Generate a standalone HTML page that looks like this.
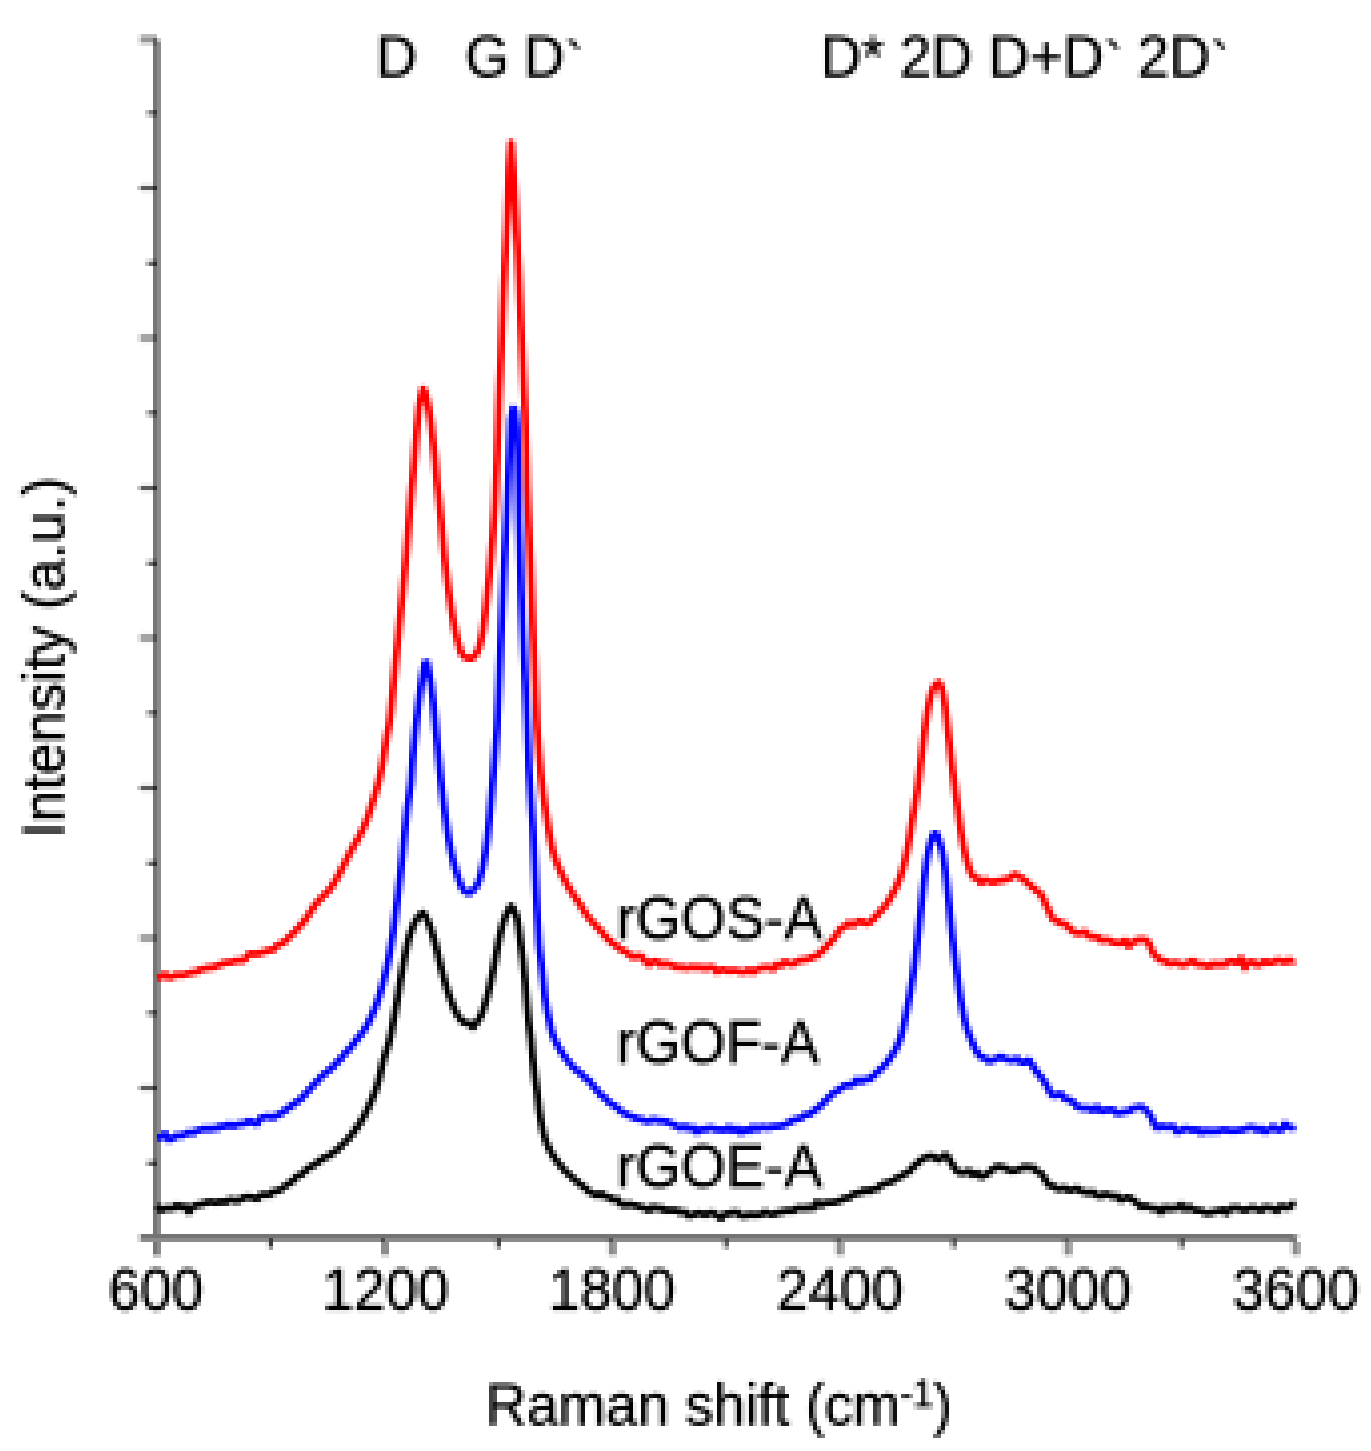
<!DOCTYPE html>
<html lang="en">
<head>
<meta charset="utf-8">
<title>Raman spectra</title>
<style>
html,body{margin:0;padding:0;background:#fff;}
body{width:1371px;height:1451px;overflow:hidden;font-family:"Liberation Sans",Arial,sans-serif;}
svg{display:block;}
</style>
</head>
<body>
<svg width="1371" height="1451" viewBox="0 0 1371 1451">
<defs><filter id="px" x="0" y="0" width="1371" height="1451" filterUnits="userSpaceOnUse" primitiveUnits="userSpaceOnUse" color-interpolation-filters="sRGB">
<feConvolveMatrix in="SourceGraphic" order="4" kernelMatrix="1 1 1 1 1 1 1 1 1 1 1 1 1 1 1 1" divisor="16" targetX="1" targetY="1" edgeMode="duplicate" preserveAlpha="false" result="b"/>
<feFlood x="2" y="3" width="1" height="1" flood-color="#000" result="dot"/>
<feComposite in="dot" in2="dot" operator="over" x="1" y="2" width="4" height="4" result="cell"/>
<feTile in="cell" result="grid"/>
<feComposite in="b" in2="grid" operator="in" result="samp"/>
<feMorphology in="samp" operator="dilate" radius="1" result="d"/>
<feOffset in="d" dx="1" dy="0" result="d1"/>
<feOffset in="d" dx="0" dy="1" result="d2"/>
<feOffset in="d" dx="1" dy="1" result="d3"/>
<feMerge><feMergeNode in="d3"/><feMergeNode in="d2"/><feMergeNode in="d1"/><feMergeNode in="d"/></feMerge>
</filter></defs>
<rect width="100%" height="100%" fill="#fff"/>
<g filter="url(#px)">
<rect width="100%" height="100%" fill="#fff"/>
<g id="axes">
<rect x="153" y="36" width="4" height="1219" fill="#767676"/>
<rect x="157" y="40" width="4" height="1215" fill="#8b8b8b"/>
<rect x="153" y="1255" width="8" height="3" fill="#dcdcdc"/>
<rect x="141" y="1234" width="1155" height="4" fill="#747474"/>
<rect x="141" y="1238" width="1155" height="4" fill="#8b8b8b"/>
<rect x="137" y="1234" width="4" height="8" fill="#d8d8d8"/>
<rect x="1296" y="1234" width="4" height="4" fill="#dcdcdc"/>
<rect x="141" y="36" width="12" height="4" fill="#777"/>
<rect x="141" y="40" width="12" height="4" fill="#b5b5b5"/>
<rect x="137" y="36" width="4" height="8" fill="#dedede"/>
<rect x="153" y="40" width="4" height="4" fill="#4a4a4a"/>
<rect x="141" y="186" width="12" height="4" fill="#5c5c5c"/>
<rect x="137" y="186" width="4" height="4" fill="#c4c4c4"/>
<rect x="141" y="183" width="12" height="3" fill="#ececec"/>
<rect x="141" y="190" width="12" height="3" fill="#ececec"/>
<rect x="153" y="186" width="4" height="4" fill="#2c2c2c"/>
<rect x="141" y="336" width="12" height="4" fill="#5c5c5c"/>
<rect x="137" y="336" width="4" height="4" fill="#c4c4c4"/>
<rect x="141" y="333" width="12" height="3" fill="#ececec"/>
<rect x="141" y="340" width="12" height="3" fill="#ececec"/>
<rect x="153" y="336" width="4" height="4" fill="#2c2c2c"/>
<rect x="141" y="486" width="12" height="4" fill="#5c5c5c"/>
<rect x="137" y="486" width="4" height="4" fill="#c4c4c4"/>
<rect x="141" y="483" width="12" height="3" fill="#ececec"/>
<rect x="141" y="490" width="12" height="3" fill="#ececec"/>
<rect x="153" y="486" width="4" height="4" fill="#2c2c2c"/>
<rect x="141" y="636" width="12" height="4" fill="#5c5c5c"/>
<rect x="137" y="636" width="4" height="4" fill="#c4c4c4"/>
<rect x="141" y="633" width="12" height="3" fill="#ececec"/>
<rect x="141" y="640" width="12" height="3" fill="#ececec"/>
<rect x="153" y="636" width="4" height="4" fill="#2c2c2c"/>
<rect x="141" y="786" width="12" height="4" fill="#5c5c5c"/>
<rect x="137" y="786" width="4" height="4" fill="#c4c4c4"/>
<rect x="141" y="783" width="12" height="3" fill="#ececec"/>
<rect x="141" y="790" width="12" height="3" fill="#ececec"/>
<rect x="153" y="786" width="4" height="4" fill="#2c2c2c"/>
<rect x="141" y="936" width="12" height="4" fill="#5c5c5c"/>
<rect x="137" y="936" width="4" height="4" fill="#c4c4c4"/>
<rect x="141" y="933" width="12" height="3" fill="#ececec"/>
<rect x="141" y="940" width="12" height="3" fill="#ececec"/>
<rect x="153" y="936" width="4" height="4" fill="#2c2c2c"/>
<rect x="141" y="1086" width="12" height="4" fill="#5c5c5c"/>
<rect x="137" y="1086" width="4" height="4" fill="#c4c4c4"/>
<rect x="141" y="1083" width="12" height="3" fill="#ececec"/>
<rect x="141" y="1090" width="12" height="3" fill="#ececec"/>
<rect x="153" y="1086" width="4" height="4" fill="#2c2c2c"/>
<rect x="149" y="111" width="4" height="4.5" fill="#555"/>
<rect x="145" y="111" width="4" height="4.5" fill="#b0b0b0"/>
<rect x="153" y="111" width="4" height="4.5" fill="#262626"/>
<rect x="149" y="261" width="4" height="4.5" fill="#555"/>
<rect x="145" y="261" width="4" height="4.5" fill="#b0b0b0"/>
<rect x="153" y="261" width="4" height="4.5" fill="#262626"/>
<rect x="149" y="411" width="4" height="4.5" fill="#555"/>
<rect x="145" y="411" width="4" height="4.5" fill="#b0b0b0"/>
<rect x="153" y="411" width="4" height="4.5" fill="#262626"/>
<rect x="149" y="561" width="4" height="4.5" fill="#555"/>
<rect x="145" y="561" width="4" height="4.5" fill="#b0b0b0"/>
<rect x="153" y="561" width="4" height="4.5" fill="#262626"/>
<rect x="149" y="711" width="4" height="4.5" fill="#555"/>
<rect x="145" y="711" width="4" height="4.5" fill="#b0b0b0"/>
<rect x="153" y="711" width="4" height="4.5" fill="#262626"/>
<rect x="149" y="861" width="4" height="4.5" fill="#555"/>
<rect x="145" y="861" width="4" height="4.5" fill="#b0b0b0"/>
<rect x="153" y="861" width="4" height="4.5" fill="#262626"/>
<rect x="149" y="1011" width="4" height="4.5" fill="#555"/>
<rect x="145" y="1011" width="4" height="4.5" fill="#b0b0b0"/>
<rect x="153" y="1011" width="4" height="4.5" fill="#262626"/>
<rect x="149" y="1161" width="4" height="4.5" fill="#555"/>
<rect x="145" y="1161" width="4" height="4.5" fill="#b0b0b0"/>
<rect x="153" y="1161" width="4" height="4.5" fill="#262626"/>
<rect x="381" y="1242" width="8" height="12" fill="#8c8c8c"/>
<rect x="381" y="1254" width="8" height="4" fill="#dcdcdc"/>
<rect x="381" y="1238" width="4" height="4" fill="#4a4a4a"/>
<rect x="608.5" y="1242" width="8" height="12" fill="#8c8c8c"/>
<rect x="608.5" y="1254" width="8" height="4" fill="#dcdcdc"/>
<rect x="608.5" y="1238" width="4" height="4" fill="#4a4a4a"/>
<rect x="836" y="1242" width="8" height="12" fill="#8c8c8c"/>
<rect x="836" y="1254" width="8" height="4" fill="#dcdcdc"/>
<rect x="836" y="1238" width="4" height="4" fill="#4a4a4a"/>
<rect x="1064" y="1242" width="8" height="12" fill="#8c8c8c"/>
<rect x="1064" y="1254" width="8" height="4" fill="#dcdcdc"/>
<rect x="1064" y="1238" width="4" height="4" fill="#4a4a4a"/>
<rect x="1292" y="1242" width="8" height="12" fill="#8c8c8c"/>
<rect x="1292" y="1254" width="8" height="4" fill="#dcdcdc"/>
<rect x="1292" y="1238" width="4" height="4" fill="#4a4a4a"/>
<rect x="269" y="1238" width="4" height="9" fill="#3c3c3c"/>
<rect x="269" y="1247" width="4" height="3" fill="#b8b8b8"/>
<rect x="266" y="1242" width="3" height="6" fill="#dadada"/>
<rect x="496.7" y="1238" width="4" height="9" fill="#3c3c3c"/>
<rect x="496.7" y="1247" width="4" height="3" fill="#b8b8b8"/>
<rect x="493.7" y="1242" width="3" height="6" fill="#dadada"/>
<rect x="724.2" y="1238" width="4" height="9" fill="#3c3c3c"/>
<rect x="724.2" y="1247" width="4" height="3" fill="#b8b8b8"/>
<rect x="721.2" y="1242" width="3" height="6" fill="#dadada"/>
<rect x="952" y="1238" width="4" height="9" fill="#3c3c3c"/>
<rect x="952" y="1247" width="4" height="3" fill="#b8b8b8"/>
<rect x="949" y="1242" width="3" height="6" fill="#dadada"/>
<rect x="1180" y="1238" width="4" height="9" fill="#3c3c3c"/>
<rect x="1180" y="1247" width="4" height="3" fill="#b8b8b8"/>
<rect x="1177" y="1242" width="3" height="6" fill="#dadada"/>
</g>
<path d="M157.0 1205.4 L159.0 1207.8 L161.0 1210.2 L163.0 1209.3 L165.0 1208.3 L167.0 1208.3 L169.0 1208.3 L171.0 1208.3 L173.0 1208.3 L175.0 1206.7 L177.0 1205.0 L179.0 1206.3 L181.0 1207.5 L183.0 1206.8 L185.0 1206.1 L187.0 1209.0 L189.0 1211.9 L191.0 1209.2 L193.0 1206.5 L195.0 1205.7 L197.0 1205.0 L199.0 1204.7 L201.0 1204.4 L203.0 1203.7 L205.0 1203.1 L207.0 1202.4 L209.0 1201.8 L211.0 1202.0 L213.0 1202.2 L215.0 1202.5 L217.0 1202.9 L219.0 1202.0 L221.0 1201.2 L223.0 1201.8 L225.0 1202.4 L227.0 1201.2 L229.0 1200.0 L231.0 1199.8 L233.0 1199.7 L235.0 1200.5 L237.0 1201.3 L239.0 1200.2 L241.0 1199.2 L243.0 1198.1 L245.0 1197.0 L247.0 1196.9 L249.0 1196.9 L251.0 1197.2 L253.0 1197.5 L255.0 1198.3 L257.0 1199.0 L259.0 1197.0 L261.0 1195.0 L263.0 1194.7 L265.0 1194.3 L267.0 1194.8 L269.0 1195.1 L271.0 1193.4 L273.0 1191.7 L275.0 1191.5 L277.0 1191.0 L279.0 1190.3 L281.0 1189.3 L283.0 1187.8 L285.0 1186.3 L287.0 1184.8 L289.0 1183.4 L291.0 1182.1 L293.0 1180.8 L295.0 1178.5 L297.0 1176.2 L299.0 1175.5 L301.0 1174.9 L303.0 1173.0 L305.0 1171.0 L307.0 1169.4 L309.0 1167.7 L311.0 1166.6 L313.0 1165.6 L315.0 1164.3 L317.0 1163.0 L319.0 1161.4 L321.0 1159.9 L323.0 1158.6 L325.0 1157.3 L327.0 1156.6 L329.0 1155.7 L331.0 1154.3 L333.0 1152.8 L335.0 1151.5 L337.0 1150.1 L339.0 1148.1 L341.0 1146.2 L343.0 1144.1 L345.0 1142.1 L347.0 1140.1 L349.0 1138.0 L351.0 1135.5 L353.0 1132.9 L355.0 1130.2 L357.0 1127.4 L359.0 1124.6 L361.0 1121.5 L363.0 1118.0 L365.0 1114.3 L367.0 1110.3 L369.0 1106.1 L371.0 1101.7 L373.0 1097.0 L375.0 1091.9 L377.0 1086.1 L379.0 1079.4 L381.0 1070.7 L383.0 1061.9 L385.0 1054.9 L387.0 1048.9 L389.0 1042.4 L391.0 1034.2 L393.0 1023.9 L395.0 1012.7 L397.0 1001.3 L399.0 989.4 L401.0 977.2 L403.0 966.0 L405.0 955.5 L407.0 945.7 L409.0 937.6 L411.0 931.5 L413.0 926.4 L415.0 922.2 L417.0 919.0 L419.0 915.9 L421.0 914.2 L423.0 912.9 L425.0 915.4 L427.0 919.6 L429.0 924.1 L431.0 929.4 L433.0 935.9 L435.0 942.7 L437.0 950.4 L439.0 959.0 L441.0 967.4 L443.0 974.9 L445.0 982.0 L447.0 988.8 L449.0 994.9 L451.0 1000.4 L453.0 1005.6 L455.0 1010.2 L457.0 1014.1 L459.0 1017.1 L461.0 1019.7 L463.0 1021.7 L465.0 1022.9 L467.0 1023.3 L469.0 1023.1 L471.0 1025.5 L473.0 1027.3 L475.0 1024.6 L477.0 1022.0 L479.0 1019.1 L481.0 1015.7 L483.0 1010.5 L485.0 1004.2 L487.0 997.3 L489.0 989.6 L491.0 980.7 L493.0 971.3 L495.0 961.1 L497.0 949.9 L499.0 939.6 L501.0 931.3 L503.0 923.7 L505.0 917.6 L507.0 913.2 L509.0 909.3 L511.0 906.2 L513.0 908.6 L515.0 912.3 L517.0 917.7 L519.0 929.7 L521.0 945.9 L523.0 959.9 L525.0 979.4 L527.0 1004.2 L529.0 1024.8 L531.0 1038.9 L533.0 1060.5 L535.0 1077.5 L537.0 1091.0 L539.0 1108.5 L541.0 1121.0 L543.0 1131.2 L545.0 1138.6 L547.0 1144.1 L549.0 1148.4 L551.0 1152.2 L553.0 1155.5 L555.0 1158.5 L557.0 1161.3 L559.0 1163.8 L561.0 1166.1 L563.0 1168.5 L565.0 1170.8 L567.0 1172.7 L569.0 1174.4 L571.0 1176.3 L573.0 1178.3 L575.0 1179.9 L577.0 1181.5 L579.0 1183.2 L581.0 1184.9 L583.0 1186.3 L585.0 1187.7 L587.0 1189.6 L589.0 1191.7 L591.0 1192.6 L593.0 1193.5 L595.0 1194.6 L597.0 1195.6 L599.0 1194.9 L601.0 1193.4 L603.0 1194.8 L605.0 1196.4 L607.0 1196.7 L609.0 1197.2 L611.0 1198.5 L613.0 1199.9 L615.0 1199.6 L617.0 1199.1 L619.0 1201.5 L621.0 1203.9 L623.0 1204.7 L625.0 1205.4 L627.0 1204.8 L629.0 1203.9 L631.0 1204.5 L633.0 1205.2 L635.0 1205.6 L637.0 1205.8 L639.0 1206.6 L641.0 1207.2 L643.0 1207.7 L645.0 1208.2 L647.0 1209.3 L649.0 1210.5 L651.0 1208.6 L653.0 1206.7 L655.0 1207.6 L657.0 1208.5 L659.0 1208.2 L661.0 1207.8 L663.0 1209.3 L665.0 1210.8 L667.0 1210.2 L669.0 1209.7 L671.0 1210.4 L673.0 1210.8 L675.0 1210.2 L677.0 1210.4 L679.0 1211.7 L681.0 1212.6 L683.0 1212.3 L685.0 1211.9 L687.0 1213.9 L689.0 1216.0 L691.0 1215.4 L693.0 1214.8 L695.0 1214.1 L697.0 1213.4 L699.0 1213.3 L701.0 1213.3 L703.0 1214.1 L705.0 1215.0 L707.0 1214.0 L709.0 1213.1 L711.0 1212.9 L713.0 1212.8 L715.0 1214.0 L717.0 1215.2 L719.0 1217.0 L721.0 1218.7 L723.0 1216.4 L725.0 1214.1 L727.0 1213.8 L729.0 1213.6 L731.0 1213.0 L733.0 1212.5 L735.0 1212.4 L737.0 1212.2 L739.0 1213.8 L741.0 1215.4 L743.0 1215.7 L745.0 1215.9 L747.0 1215.2 L749.0 1214.5 L751.0 1214.8 L753.0 1215.1 L755.0 1214.9 L757.0 1214.7 L759.0 1214.7 L761.0 1214.7 L763.0 1213.3 L765.0 1211.9 L767.0 1212.8 L769.0 1213.7 L771.0 1214.2 L773.0 1214.5 L775.0 1213.6 L777.0 1212.6 L779.0 1212.5 L781.0 1212.3 L783.0 1211.6 L785.0 1210.9 L787.0 1210.7 L789.0 1210.5 L791.0 1210.7 L793.0 1211.0 L795.0 1209.7 L797.0 1208.3 L799.0 1208.1 L801.0 1207.9 L803.0 1208.2 L805.0 1208.5 L807.0 1208.0 L809.0 1207.5 L811.0 1207.9 L813.0 1208.3 L815.0 1205.1 L817.0 1202.0 L819.0 1203.8 L821.0 1205.4 L823.0 1204.1 L825.0 1202.7 L827.0 1202.7 L829.0 1202.7 L831.0 1202.6 L833.0 1202.6 L835.0 1202.1 L837.0 1201.7 L839.0 1201.0 L841.0 1200.3 L843.0 1199.1 L845.0 1197.9 L847.0 1197.9 L849.0 1197.9 L851.0 1196.2 L853.0 1194.5 L855.0 1193.8 L857.0 1193.1 L859.0 1192.8 L861.0 1192.6 L863.0 1191.2 L865.0 1189.8 L867.0 1190.6 L869.0 1191.5 L871.0 1190.2 L873.0 1188.9 L875.0 1188.9 L877.0 1188.9 L879.0 1187.0 L881.0 1185.1 L883.0 1184.2 L885.0 1183.3 L887.0 1182.8 L889.0 1182.3 L891.0 1181.6 L893.0 1180.9 L895.0 1179.4 L897.0 1177.9 L899.0 1177.2 L901.0 1176.3 L903.0 1175.0 L905.0 1173.6 L907.0 1172.7 L909.0 1171.7 L911.0 1169.5 L913.0 1167.2 L915.0 1165.4 L917.0 1163.7 L919.0 1161.8 L921.0 1160.0 L923.0 1158.8 L925.0 1157.7 L927.0 1156.9 L929.0 1156.5 L931.0 1156.2 L933.0 1156.4 L935.0 1157.8 L937.0 1159.1 L939.0 1159.6 L941.0 1158.2 L943.0 1156.3 L945.0 1155.1 L947.0 1155.6 L949.0 1158.8 L951.0 1162.6 L953.0 1165.6 L955.0 1168.6 L957.0 1171.1 L959.0 1172.4 L961.0 1172.9 L963.0 1172.8 L965.0 1172.6 L967.0 1171.7 L969.0 1170.8 L971.0 1173.0 L973.0 1175.1 L975.0 1173.9 L977.0 1172.7 L979.0 1174.7 L981.0 1176.8 L983.0 1176.2 L985.0 1175.0 L987.0 1174.0 L989.0 1172.6 L991.0 1170.7 L993.0 1169.1 L995.0 1167.8 L997.0 1166.6 L999.0 1166.6 L1001.0 1167.4 L1003.0 1167.3 L1005.0 1167.9 L1007.0 1169.2 L1009.0 1170.2 L1011.0 1170.8 L1013.0 1171.0 L1015.0 1170.6 L1017.0 1170.0 L1019.0 1169.3 L1021.0 1168.7 L1023.0 1167.7 L1025.0 1166.7 L1027.0 1167.2 L1029.0 1168.0 L1031.0 1167.4 L1033.0 1167.5 L1035.0 1169.5 L1037.0 1171.3 L1039.0 1172.2 L1041.0 1173.4 L1043.0 1175.9 L1045.0 1179.1 L1047.0 1182.4 L1049.0 1185.2 L1051.0 1186.1 L1053.0 1185.9 L1055.0 1187.2 L1057.0 1188.9 L1059.0 1188.9 L1061.0 1188.9 L1063.0 1188.3 L1065.0 1187.7 L1067.0 1189.2 L1069.0 1190.6 L1071.0 1190.1 L1073.0 1189.6 L1075.0 1188.9 L1077.0 1188.3 L1079.0 1189.8 L1081.0 1191.2 L1083.0 1191.7 L1085.0 1192.1 L1087.0 1192.7 L1089.0 1193.2 L1091.0 1192.5 L1093.0 1191.9 L1095.0 1193.6 L1097.0 1195.3 L1099.0 1195.7 L1101.0 1196.2 L1103.0 1195.1 L1105.0 1193.9 L1107.0 1194.5 L1109.0 1195.1 L1111.0 1195.8 L1113.0 1196.4 L1115.0 1196.2 L1117.0 1196.0 L1119.0 1198.1 L1121.0 1200.1 L1123.0 1199.1 L1125.0 1198.2 L1127.0 1197.7 L1129.0 1197.5 L1131.0 1198.7 L1133.0 1200.0 L1135.0 1201.5 L1137.0 1203.0 L1139.0 1205.0 L1141.0 1207.3 L1143.0 1206.6 L1145.0 1205.8 L1147.0 1206.5 L1149.0 1207.3 L1151.0 1208.0 L1153.0 1208.7 L1155.0 1208.6 L1157.0 1208.2 L1159.0 1210.2 L1161.0 1212.1 L1163.0 1209.6 L1165.0 1207.2 L1167.0 1208.1 L1169.0 1209.1 L1171.0 1208.4 L1173.0 1207.8 L1175.0 1208.1 L1177.0 1208.3 L1179.0 1206.6 L1181.0 1205.0 L1183.0 1207.2 L1185.0 1209.5 L1187.0 1207.8 L1189.0 1206.8 L1191.0 1208.0 L1193.0 1209.3 L1195.0 1210.3 L1197.0 1210.4 L1199.0 1210.4 L1201.0 1210.6 L1203.0 1211.7 L1205.0 1212.8 L1207.0 1213.1 L1209.0 1213.3 L1211.0 1212.5 L1213.0 1211.7 L1215.0 1211.4 L1217.0 1211.2 L1219.0 1210.6 L1221.0 1210.1 L1223.0 1209.7 L1225.0 1212.3 L1227.0 1213.0 L1229.0 1209.5 L1231.0 1208.0 L1233.0 1208.4 L1235.0 1207.9 L1237.0 1207.5 L1239.0 1208.3 L1241.0 1209.2 L1243.0 1209.8 L1245.0 1210.4 L1247.0 1209.6 L1249.0 1208.7 L1251.0 1208.1 L1253.0 1207.5 L1255.0 1208.2 L1257.0 1208.9 L1259.0 1209.7 L1261.0 1210.6 L1263.0 1208.8 L1265.0 1207.1 L1267.0 1207.5 L1269.0 1207.8 L1271.0 1208.1 L1273.0 1208.4 L1275.0 1209.7 L1277.0 1211.0 L1279.0 1208.3 L1281.0 1206.0 L1283.0 1206.9 L1285.0 1207.5 L1287.0 1207.4 L1289.0 1207.5 L1291.0 1205.7 L1293.0 1203.9 L1295.0 1205.2" fill="none" stroke="#000000" stroke-width="7.0" stroke-linejoin="round" stroke-linecap="butt"/>
<path d="M157.0 977.9 L159.0 977.5 L161.0 977.0 L163.0 975.6 L165.0 974.1 L167.0 975.8 L169.0 977.6 L171.0 977.0 L173.0 976.4 L175.0 975.4 L177.0 974.4 L179.0 974.9 L181.0 975.3 L183.0 974.8 L185.0 974.3 L187.0 973.8 L189.0 973.3 L191.0 972.7 L193.0 972.0 L195.0 971.9 L197.0 971.7 L199.0 970.4 L201.0 969.1 L203.0 968.9 L205.0 968.7 L207.0 968.0 L209.0 967.2 L211.0 967.4 L213.0 967.5 L215.0 966.6 L217.0 965.8 L219.0 965.1 L221.0 964.4 L223.0 963.6 L225.0 962.8 L227.0 962.6 L229.0 962.5 L231.0 962.1 L233.0 961.7 L235.0 961.0 L237.0 960.3 L239.0 960.6 L241.0 960.9 L243.0 960.1 L245.0 959.4 L247.0 956.6 L249.0 953.9 L251.0 953.7 L253.0 953.5 L255.0 953.9 L257.0 954.2 L259.0 953.4 L261.0 952.6 L263.0 952.2 L265.0 951.7 L267.0 950.9 L269.0 950.1 L271.0 950.1 L273.0 949.9 L275.0 947.6 L277.0 945.4 L279.0 944.6 L281.0 943.6 L283.0 942.6 L285.0 941.3 L287.0 939.2 L289.0 937.1 L291.0 935.2 L293.0 933.4 L295.0 931.3 L297.0 929.2 L299.0 927.0 L301.0 924.7 L303.0 922.6 L305.0 920.0 L307.0 917.1 L309.0 914.1 L311.0 911.0 L313.0 907.9 L315.0 905.1 L317.0 902.6 L319.0 900.3 L321.0 898.4 L323.0 896.3 L325.0 894.3 L327.0 892.4 L329.0 890.2 L331.0 887.6 L333.0 884.6 L335.0 881.3 L337.0 877.9 L339.0 874.3 L341.0 870.4 L343.0 866.5 L345.0 862.5 L347.0 858.5 L349.0 854.5 L351.0 850.7 L353.0 847.1 L355.0 843.7 L357.0 840.2 L359.0 836.7 L361.0 833.0 L363.0 828.9 L365.0 824.2 L367.0 819.0 L369.0 813.3 L371.0 807.2 L373.0 800.9 L375.0 794.5 L377.0 787.8 L379.0 780.1 L381.0 771.2 L383.0 760.9 L385.0 747.2 L387.0 734.5 L389.0 725.4 L391.0 709.8 L393.0 688.3 L395.0 668.1 L397.0 648.1 L399.0 628.0 L401.0 608.4 L403.0 588.5 L405.0 567.5 L407.0 544.0 L409.0 519.4 L411.0 495.9 L413.0 475.4 L415.0 451.6 L417.0 427.3 L419.0 408.0 L421.0 396.2 L423.0 388.8 L425.0 392.0 L427.0 400.5 L429.0 410.0 L431.0 424.0 L433.0 441.7 L435.0 459.5 L437.0 483.7 L439.0 500.3 L441.0 519.7 L443.0 542.3 L445.0 562.3 L447.0 579.0 L449.0 593.8 L451.0 607.0 L453.0 619.0 L455.0 629.8 L457.0 638.7 L459.0 646.2 L461.0 652.3 L463.0 655.2 L465.0 657.1 L467.0 658.2 L469.0 658.2 L471.0 658.7 L473.0 657.4 L475.0 655.1 L477.0 652.3 L479.0 647.7 L481.0 640.1 L483.0 630.0 L485.0 614.5 L487.0 596.4 L489.0 578.0 L491.0 557.5 L493.0 533.5 L495.0 504.8 L497.0 458.8 L499.0 398.1 L501.0 355.3 L503.0 303.2 L505.0 260.8 L507.0 225.0 L509.0 168.6 L511.0 142.7 L513.0 168.4 L515.0 202.8 L517.0 240.8 L519.0 279.7 L521.0 326.4 L523.0 371.2 L525.0 412.0 L527.0 487.6 L529.0 531.3 L531.0 580.8 L533.0 632.2 L535.0 682.1 L537.0 726.8 L539.0 753.6 L541.0 775.5 L543.0 792.7 L545.0 807.1 L547.0 819.8 L549.0 831.8 L551.0 842.7 L553.0 851.5 L555.0 858.0 L557.0 863.5 L559.0 868.3 L561.0 872.6 L563.0 876.8 L565.0 880.7 L567.0 884.4 L569.0 887.9 L571.0 891.2 L573.0 894.3 L575.0 897.2 L577.0 900.0 L579.0 903.0 L581.0 906.0 L583.0 909.4 L585.0 912.6 L587.0 915.5 L589.0 918.1 L591.0 920.5 L593.0 922.7 L595.0 924.8 L597.0 927.0 L599.0 928.9 L601.0 931.1 L603.0 933.5 L605.0 935.9 L607.0 938.1 L609.0 940.1 L611.0 941.9 L613.0 943.6 L615.0 945.0 L617.0 946.3 L619.0 948.0 L621.0 949.6 L623.0 950.5 L625.0 951.2 L627.0 952.8 L629.0 954.5 L631.0 955.9 L633.0 957.2 L635.0 956.6 L637.0 955.9 L639.0 956.1 L641.0 956.3 L643.0 958.6 L645.0 961.0 L647.0 962.7 L649.0 964.6 L651.0 963.2 L653.0 961.2 L655.0 961.3 L657.0 961.4 L659.0 963.1 L661.0 964.8 L663.0 964.0 L665.0 963.2 L667.0 963.9 L669.0 964.5 L671.0 965.0 L673.0 965.5 L675.0 966.6 L677.0 967.6 L679.0 967.2 L681.0 966.7 L683.0 967.4 L685.0 968.1 L687.0 967.9 L689.0 967.7 L691.0 967.2 L693.0 966.8 L695.0 967.3 L697.0 967.9 L699.0 967.4 L701.0 967.0 L703.0 967.9 L705.0 968.8 L707.0 967.9 L709.0 967.1 L711.0 967.2 L713.0 967.4 L715.0 969.6 L717.0 971.8 L719.0 970.7 L721.0 969.6 L723.0 969.8 L725.0 970.0 L727.0 970.6 L729.0 971.3 L731.0 970.7 L733.0 970.1 L735.0 970.5 L737.0 970.8 L739.0 971.4 L741.0 972.1 L743.0 972.1 L745.0 972.0 L747.0 970.7 L749.0 969.5 L751.0 971.0 L753.0 972.3 L755.0 970.9 L757.0 969.5 L759.0 968.8 L761.0 968.1 L763.0 967.8 L765.0 967.5 L767.0 967.4 L769.0 967.3 L771.0 968.2 L773.0 969.2 L775.0 966.8 L777.0 964.4 L779.0 965.0 L781.0 965.6 L783.0 963.6 L785.0 961.5 L787.0 962.7 L789.0 963.8 L791.0 964.0 L793.0 964.1 L795.0 962.8 L797.0 961.6 L799.0 960.8 L801.0 960.0 L803.0 960.0 L805.0 959.8 L807.0 959.3 L809.0 958.7 L811.0 957.8 L813.0 956.9 L815.0 956.3 L817.0 955.6 L819.0 953.8 L821.0 952.0 L823.0 950.1 L825.0 948.0 L827.0 945.9 L829.0 943.8 L831.0 941.6 L833.0 939.3 L835.0 936.7 L837.0 933.7 L839.0 930.8 L841.0 928.4 L843.0 927.2 L845.0 926.4 L847.0 924.7 L849.0 922.9 L851.0 923.9 L853.0 925.2 L855.0 923.8 L857.0 922.4 L859.0 921.6 L861.0 920.9 L863.0 922.2 L865.0 923.3 L867.0 923.3 L869.0 922.9 L871.0 921.2 L873.0 919.3 L875.0 917.3 L877.0 915.1 L879.0 912.8 L881.0 910.5 L883.0 908.5 L885.0 906.2 L887.0 903.2 L889.0 900.0 L891.0 896.6 L893.0 893.0 L895.0 889.3 L897.0 885.0 L899.0 880.2 L901.0 874.8 L903.0 868.2 L905.0 860.1 L907.0 851.0 L909.0 840.3 L911.0 827.7 L913.0 815.5 L915.0 804.0 L917.0 791.7 L919.0 776.9 L921.0 760.3 L923.0 744.3 L925.0 728.1 L927.0 714.1 L929.0 703.3 L931.0 694.5 L933.0 689.2 L935.0 685.4 L937.0 683.4 L939.0 682.6 L941.0 686.5 L943.0 693.9 L945.0 705.7 L947.0 723.1 L949.0 740.0 L951.0 757.3 L953.0 773.5 L955.0 788.6 L957.0 803.3 L959.0 818.1 L961.0 832.3 L963.0 843.9 L965.0 853.6 L967.0 861.3 L969.0 867.6 L971.0 873.1 L973.0 876.6 L975.0 877.7 L977.0 878.1 L979.0 880.3 L981.0 883.0 L983.0 881.5 L985.0 879.7 L987.0 880.5 L989.0 881.2 L991.0 882.0 L993.0 882.8 L995.0 881.9 L997.0 880.8 L999.0 880.9 L1001.0 880.8 L1003.0 880.1 L1005.0 879.4 L1007.0 879.2 L1009.0 878.6 L1011.0 877.1 L1013.0 875.5 L1015.0 874.5 L1017.0 875.3 L1019.0 876.5 L1021.0 877.8 L1023.0 879.2 L1025.0 880.6 L1027.0 882.4 L1029.0 884.3 L1031.0 886.1 L1033.0 887.7 L1035.0 889.4 L1037.0 891.1 L1039.0 892.5 L1041.0 894.6 L1043.0 898.1 L1045.0 902.6 L1047.0 906.9 L1049.0 911.1 L1051.0 915.4 L1053.0 918.9 L1055.0 920.5 L1057.0 920.7 L1059.0 922.1 L1061.0 923.7 L1063.0 923.5 L1065.0 924.0 L1067.0 925.8 L1069.0 927.7 L1071.0 929.6 L1073.0 931.4 L1075.0 932.5 L1077.0 933.3 L1079.0 933.3 L1081.0 933.2 L1083.0 932.4 L1085.0 931.7 L1087.0 933.9 L1089.0 936.0 L1091.0 936.5 L1093.0 937.0 L1095.0 936.9 L1097.0 936.8 L1099.0 938.6 L1101.0 940.5 L1103.0 940.3 L1105.0 939.8 L1107.0 940.0 L1109.0 940.1 L1111.0 941.4 L1113.0 942.6 L1115.0 942.7 L1117.0 942.7 L1119.0 943.1 L1121.0 943.4 L1123.0 941.9 L1125.0 940.4 L1127.0 943.3 L1129.0 946.2 L1131.0 944.1 L1133.0 942.1 L1135.0 941.3 L1137.0 940.0 L1139.0 939.6 L1141.0 940.3 L1143.0 939.6 L1145.0 939.7 L1147.0 941.1 L1149.0 943.3 L1151.0 948.6 L1153.0 953.1 L1155.0 955.4 L1157.0 957.3 L1159.0 958.9 L1161.0 960.2 L1163.0 960.7 L1165.0 960.9 L1167.0 962.3 L1169.0 963.7 L1171.0 963.3 L1173.0 962.8 L1175.0 962.8 L1177.0 962.8 L1179.0 963.7 L1181.0 964.5 L1183.0 964.7 L1185.0 964.4 L1187.0 963.5 L1189.0 962.5 L1191.0 961.6 L1193.0 960.9 L1195.0 962.6 L1197.0 964.1 L1199.0 964.4 L1201.0 964.3 L1203.0 964.6 L1205.0 964.9 L1207.0 965.8 L1209.0 966.4 L1211.0 965.0 L1213.0 963.6 L1215.0 964.2 L1217.0 964.8 L1219.0 964.4 L1221.0 964.0 L1223.0 964.3 L1225.0 964.6 L1227.0 962.9 L1229.0 961.2 L1231.0 961.2 L1233.0 961.2 L1235.0 962.1 L1237.0 962.9 L1239.0 960.7 L1241.0 958.4 L1243.0 963.2 L1245.0 968.0 L1247.0 964.9 L1249.0 961.9 L1251.0 962.0 L1253.0 962.1 L1255.0 963.6 L1257.0 965.0 L1259.0 964.4 L1261.0 963.7 L1263.0 962.3 L1265.0 961.1 L1267.0 962.3 L1269.0 962.9 L1271.0 962.4 L1273.0 962.3 L1275.0 961.2 L1277.0 960.2 L1279.0 960.5 L1281.0 960.8 L1283.0 961.6 L1285.0 962.3 L1287.0 961.1 L1289.0 959.9 L1291.0 960.8 L1293.0 961.6 L1295.0 961.0" fill="none" stroke="#ff0000" stroke-width="7.0" stroke-linejoin="round" stroke-linecap="butt"/>
<path d="M157.0 1137.5 L159.0 1137.5 L161.0 1137.4 L163.0 1135.5 L165.0 1133.7 L167.0 1136.7 L169.0 1139.7 L171.0 1138.9 L173.0 1138.1 L175.0 1136.6 L177.0 1135.2 L179.0 1135.6 L181.0 1135.9 L183.0 1135.1 L185.0 1134.2 L187.0 1133.2 L189.0 1132.2 L191.0 1132.7 L193.0 1133.2 L195.0 1131.9 L197.0 1130.6 L199.0 1130.1 L201.0 1129.7 L203.0 1129.0 L205.0 1128.3 L207.0 1128.9 L209.0 1129.5 L211.0 1128.8 L213.0 1128.0 L215.0 1128.2 L217.0 1128.4 L219.0 1127.2 L221.0 1126.0 L223.0 1126.3 L225.0 1126.5 L227.0 1125.4 L229.0 1124.3 L231.0 1125.3 L233.0 1126.3 L235.0 1125.4 L237.0 1124.6 L239.0 1124.3 L241.0 1124.1 L243.0 1123.8 L245.0 1123.5 L247.0 1122.2 L249.0 1120.8 L251.0 1121.8 L253.0 1122.8 L255.0 1123.3 L257.0 1123.8 L259.0 1120.8 L261.0 1117.8 L263.0 1117.3 L265.0 1116.9 L267.0 1116.6 L269.0 1116.3 L271.0 1117.1 L273.0 1117.8 L275.0 1116.6 L277.0 1115.3 L279.0 1114.5 L281.0 1113.4 L283.0 1111.9 L285.0 1110.4 L287.0 1108.9 L289.0 1107.4 L291.0 1106.1 L293.0 1104.8 L295.0 1103.2 L297.0 1101.7 L299.0 1100.3 L301.0 1098.8 L303.0 1096.7 L305.0 1094.4 L307.0 1092.3 L309.0 1090.0 L311.0 1087.7 L313.0 1085.5 L315.0 1083.4 L317.0 1081.5 L319.0 1079.2 L321.0 1077.0 L323.0 1075.2 L325.0 1073.5 L327.0 1071.9 L329.0 1070.2 L331.0 1068.6 L333.0 1066.8 L335.0 1064.6 L337.0 1062.4 L339.0 1060.5 L341.0 1058.5 L343.0 1055.9 L345.0 1053.3 L347.0 1051.4 L349.0 1049.4 L351.0 1047.0 L353.0 1044.6 L355.0 1041.8 L357.0 1039.1 L359.0 1036.7 L361.0 1034.2 L363.0 1031.6 L365.0 1028.6 L367.0 1025.3 L369.0 1021.5 L371.0 1017.4 L373.0 1012.9 L375.0 1008.0 L377.0 1002.7 L379.0 996.9 L381.0 990.4 L383.0 983.2 L385.0 975.2 L387.0 966.5 L389.0 956.7 L391.0 945.7 L393.0 933.3 L395.0 918.4 L397.0 902.2 L399.0 885.9 L401.0 868.9 L403.0 850.5 L405.0 829.4 L407.0 809.8 L409.0 796.4 L411.0 782.6 L413.0 755.0 L415.0 734.2 L417.0 716.3 L419.0 700.3 L421.0 685.6 L423.0 673.0 L425.0 662.7 L427.0 662.6 L429.0 673.0 L431.0 684.9 L433.0 700.4 L435.0 720.9 L437.0 741.8 L439.0 762.4 L441.0 781.7 L443.0 798.4 L445.0 813.7 L447.0 828.2 L449.0 840.9 L451.0 851.0 L453.0 859.8 L455.0 867.4 L457.0 874.0 L459.0 880.0 L461.0 885.6 L463.0 889.3 L465.0 891.2 L467.0 892.7 L469.0 893.2 L471.0 891.8 L473.0 890.1 L475.0 888.0 L477.0 885.4 L479.0 880.7 L481.0 874.2 L483.0 866.2 L485.0 854.7 L487.0 840.5 L489.0 822.7 L491.0 801.4 L493.0 778.6 L495.0 753.7 L497.0 729.3 L499.0 685.2 L501.0 636.5 L503.0 591.6 L505.0 548.9 L507.0 510.0 L509.0 465.6 L511.0 419.4 L513.0 408.5 L515.0 409.9 L517.0 428.6 L519.0 520.1 L521.0 590.7 L523.0 635.8 L525.0 678.1 L527.0 720.0 L529.0 771.1 L531.0 799.8 L533.0 828.6 L535.0 869.7 L537.0 910.1 L539.0 945.0 L541.0 960.7 L543.0 978.6 L545.0 998.1 L547.0 1010.0 L549.0 1019.3 L551.0 1028.8 L553.0 1035.4 L555.0 1040.3 L557.0 1044.4 L559.0 1047.9 L561.0 1051.2 L563.0 1054.3 L565.0 1057.2 L567.0 1059.8 L569.0 1062.2 L571.0 1064.7 L573.0 1067.1 L575.0 1069.0 L577.0 1070.5 L579.0 1072.1 L581.0 1073.7 L583.0 1075.8 L585.0 1077.9 L587.0 1079.2 L589.0 1080.7 L591.0 1083.2 L593.0 1085.8 L595.0 1088.1 L597.0 1090.4 L599.0 1092.8 L601.0 1095.1 L603.0 1096.6 L605.0 1098.0 L607.0 1100.2 L609.0 1102.4 L611.0 1103.8 L613.0 1105.0 L615.0 1106.3 L617.0 1107.4 L619.0 1109.4 L621.0 1111.4 L623.0 1112.5 L625.0 1113.5 L627.0 1114.6 L629.0 1115.6 L631.0 1116.3 L633.0 1116.8 L635.0 1117.8 L637.0 1118.7 L639.0 1118.9 L641.0 1119.1 L643.0 1120.0 L645.0 1120.9 L647.0 1121.2 L649.0 1121.4 L651.0 1120.4 L653.0 1119.5 L655.0 1119.9 L657.0 1120.3 L659.0 1120.8 L661.0 1121.2 L663.0 1121.0 L665.0 1120.9 L667.0 1121.8 L669.0 1122.8 L671.0 1123.6 L673.0 1124.4 L675.0 1125.4 L677.0 1126.4 L679.0 1127.4 L681.0 1128.3 L683.0 1127.2 L685.0 1126.1 L687.0 1127.4 L689.0 1128.8 L691.0 1128.3 L693.0 1127.6 L695.0 1129.9 L697.0 1132.1 L699.0 1130.5 L701.0 1128.8 L703.0 1129.4 L705.0 1130.0 L707.0 1128.9 L709.0 1127.8 L711.0 1128.0 L713.0 1128.2 L715.0 1129.1 L717.0 1130.0 L719.0 1129.6 L721.0 1129.2 L723.0 1129.8 L725.0 1130.5 L727.0 1128.9 L729.0 1127.2 L731.0 1129.1 L733.0 1131.0 L735.0 1129.6 L737.0 1128.3 L739.0 1130.4 L741.0 1132.6 L743.0 1130.8 L745.0 1129.0 L747.0 1130.1 L749.0 1131.2 L751.0 1129.0 L753.0 1126.8 L755.0 1128.2 L757.0 1129.6 L759.0 1128.3 L761.0 1127.1 L763.0 1127.3 L765.0 1127.5 L767.0 1127.7 L769.0 1127.8 L771.0 1127.2 L773.0 1126.6 L775.0 1126.5 L777.0 1126.4 L779.0 1126.2 L781.0 1126.0 L783.0 1125.4 L785.0 1124.7 L787.0 1123.7 L789.0 1122.7 L791.0 1121.4 L793.0 1120.1 L795.0 1119.7 L797.0 1119.2 L799.0 1118.7 L801.0 1118.1 L803.0 1116.4 L805.0 1114.7 L807.0 1114.8 L809.0 1114.5 L811.0 1113.0 L813.0 1111.4 L815.0 1110.0 L817.0 1108.6 L819.0 1107.1 L821.0 1105.4 L823.0 1103.3 L825.0 1101.3 L827.0 1099.2 L829.0 1097.2 L831.0 1095.2 L833.0 1093.3 L835.0 1092.1 L837.0 1091.0 L839.0 1089.6 L841.0 1088.3 L843.0 1086.8 L845.0 1085.2 L847.0 1085.1 L849.0 1085.4 L851.0 1084.7 L853.0 1083.9 L855.0 1081.8 L857.0 1079.6 L859.0 1080.8 L861.0 1081.8 L863.0 1080.4 L865.0 1079.2 L867.0 1079.6 L869.0 1079.4 L871.0 1077.9 L873.0 1076.4 L875.0 1074.4 L877.0 1072.3 L879.0 1070.7 L881.0 1068.9 L883.0 1067.0 L885.0 1064.9 L887.0 1062.3 L889.0 1059.6 L891.0 1056.8 L893.0 1053.8 L895.0 1050.4 L897.0 1046.5 L899.0 1042.0 L901.0 1036.5 L903.0 1028.7 L905.0 1019.1 L907.0 1009.0 L909.0 998.8 L911.0 988.0 L913.0 975.8 L915.0 961.4 L917.0 944.6 L919.0 926.8 L921.0 908.8 L923.0 890.3 L925.0 873.2 L927.0 858.8 L929.0 848.6 L931.0 841.4 L933.0 835.2 L935.0 833.6 L937.0 834.4 L939.0 840.3 L941.0 846.7 L943.0 855.0 L945.0 868.5 L947.0 885.7 L949.0 904.0 L951.0 924.0 L953.0 942.2 L955.0 957.9 L957.0 972.8 L959.0 988.1 L961.0 1001.2 L963.0 1012.3 L965.0 1021.7 L967.0 1028.9 L969.0 1034.2 L971.0 1039.0 L973.0 1044.2 L975.0 1048.7 L977.0 1052.0 L979.0 1055.1 L981.0 1056.9 L983.0 1057.3 L985.0 1058.4 L987.0 1059.9 L989.0 1061.5 L991.0 1060.6 L993.0 1059.7 L995.0 1059.5 L997.0 1058.5 L999.0 1057.2 L1001.0 1056.6 L1003.0 1057.7 L1005.0 1058.8 L1007.0 1059.4 L1009.0 1059.9 L1011.0 1060.4 L1013.0 1060.5 L1015.0 1059.6 L1017.0 1058.5 L1019.0 1060.4 L1021.0 1062.3 L1023.0 1062.5 L1025.0 1062.7 L1027.0 1060.6 L1029.0 1060.2 L1031.0 1063.1 L1033.0 1066.3 L1035.0 1069.5 L1037.0 1072.3 L1039.0 1074.8 L1041.0 1077.3 L1043.0 1079.8 L1045.0 1082.6 L1047.0 1086.1 L1049.0 1090.2 L1051.0 1093.6 L1053.0 1095.5 L1055.0 1095.5 L1057.0 1094.9 L1059.0 1094.2 L1061.0 1094.0 L1063.0 1096.7 L1065.0 1098.8 L1067.0 1099.2 L1069.0 1099.8 L1071.0 1101.0 L1073.0 1102.0 L1075.0 1104.3 L1077.0 1106.6 L1079.0 1107.2 L1081.0 1107.9 L1083.0 1108.2 L1085.0 1108.4 L1087.0 1108.3 L1089.0 1108.0 L1091.0 1109.2 L1093.0 1110.4 L1095.0 1108.8 L1097.0 1107.0 L1099.0 1109.0 L1101.0 1111.1 L1103.0 1110.7 L1105.0 1110.2 L1107.0 1110.0 L1109.0 1109.8 L1111.0 1109.8 L1113.0 1109.7 L1115.0 1111.6 L1117.0 1113.4 L1119.0 1113.1 L1121.0 1112.7 L1123.0 1112.2 L1125.0 1111.6 L1127.0 1111.2 L1129.0 1111.2 L1131.0 1109.7 L1133.0 1108.3 L1135.0 1107.9 L1137.0 1107.6 L1139.0 1107.1 L1141.0 1106.7 L1143.0 1107.9 L1145.0 1109.4 L1147.0 1111.1 L1149.0 1113.7 L1151.0 1116.5 L1153.0 1121.3 L1155.0 1125.9 L1157.0 1127.9 L1159.0 1127.2 L1161.0 1125.9 L1163.0 1126.6 L1165.0 1127.3 L1167.0 1127.1 L1169.0 1126.9 L1171.0 1126.6 L1173.0 1126.4 L1175.0 1129.1 L1177.0 1131.8 L1179.0 1131.2 L1181.0 1130.6 L1183.0 1129.5 L1185.0 1128.5 L1187.0 1128.8 L1189.0 1129.0 L1191.0 1129.8 L1193.0 1130.6 L1195.0 1129.9 L1197.0 1129.2 L1199.0 1130.9 L1201.0 1132.7 L1203.0 1131.6 L1205.0 1130.2 L1207.0 1131.0 L1209.0 1131.8 L1211.0 1131.2 L1213.0 1130.7 L1215.0 1131.1 L1217.0 1131.6 L1219.0 1130.9 L1221.0 1130.1 L1223.0 1129.9 L1225.0 1129.7 L1227.0 1130.2 L1229.0 1130.7 L1231.0 1130.8 L1233.0 1130.8 L1235.0 1130.7 L1237.0 1130.5 L1239.0 1130.3 L1241.0 1129.9 L1243.0 1129.9 L1245.0 1129.0 L1247.0 1128.1 L1249.0 1128.0 L1251.0 1127.4 L1253.0 1127.4 L1255.0 1128.7 L1257.0 1130.0 L1259.0 1129.5 L1261.0 1128.3 L1263.0 1130.1 L1265.0 1131.7 L1267.0 1130.8 L1269.0 1129.9 L1271.0 1128.2 L1273.0 1126.5 L1275.0 1128.1 L1277.0 1129.9 L1279.0 1129.9 L1281.0 1130.0 L1283.0 1127.0 L1285.0 1124.0 L1287.0 1125.7 L1289.0 1127.3 L1291.0 1127.6 L1293.0 1127.8 L1295.0 1126.6" fill="none" stroke="#0000ff" stroke-width="7.0" stroke-linejoin="round" stroke-linecap="butt"/>
<g font-family="&quot;Liberation Sans&quot;, Arial, sans-serif" font-size="57px" fill="#000" stroke="#000" stroke-width="0.55">
<text transform="translate(376,77.3) scale(1,1.04)" font-size="57px">D</text>
<text transform="translate(465,77.3) scale(1,1.04)" font-size="57px">G</text>
<text transform="translate(523.6,77.3) scale(1,1.04)" font-size="57px">D<tspan dy="6.4">`</tspan></text>
<text transform="translate(820.5,77.3) scale(1,1.04)" font-size="57px">D* 2D D+D<tspan dy="6.4">`</tspan></text>
<text transform="translate(1137.6,77.3) scale(1,1.04)" font-size="57px">2D<tspan dy="6.4">`</tspan></text>
<text transform="translate(156,1310.2) scale(1,1.04)" font-size="57px" text-anchor="middle">600</text>
<text transform="translate(385.5,1310.2) scale(1,1.04)" font-size="57px" text-anchor="middle">1200</text>
<text transform="translate(612,1310.2) scale(1,1.04)" font-size="57px" text-anchor="middle">1800</text>
<text transform="translate(840,1310.2) scale(1,1.04)" font-size="57px" text-anchor="middle">2400</text>
<text transform="translate(1068,1310.2) scale(1,1.04)" font-size="57px" text-anchor="middle">3000</text>
<text transform="translate(1296,1310.2) scale(1,1.04)" font-size="57px" text-anchor="middle">3600</text>
<text transform="translate(616.4,938.6) scale(1,1.04)" font-size="58px">rGOS-A</text>
<text transform="translate(616.4,1062.6) scale(1,1.04)" font-size="58px">rGOF-A</text>
<text transform="translate(616.4,1186.6) scale(1,1.04)" font-size="58px">rGOE-A</text>
<text transform="translate(485.5,1424.6) scale(1,1.04)" font-size="57px">Raman shift (cm<tspan font-size="37px" dy="-17">-1</tspan><tspan dy="17">)</tspan></text>
<text transform="translate(64.4,838) rotate(-90) scale(1,1.04)">Intensity (a.u.)</text>
</g>
</g>
</svg>
</body>
</html>
